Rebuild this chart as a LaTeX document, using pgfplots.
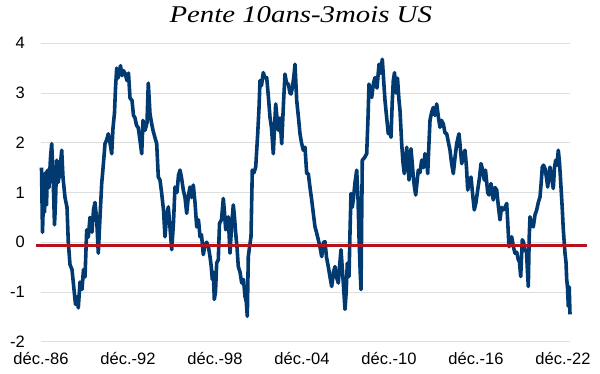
\documentclass[border=0pt]{standalone}
\usepackage{fontspec}
\setmainfont{Liberation Sans}
\newfontfamily\titlefont[FakeStretch=1.2]{Liberation Serif}
\usepackage{pgfplots}
\pgfplotsset{compat=1.18}
\definecolor{navy}{HTML}{003A70}
\definecolor{redl}{HTML}{B5121B}
\begin{document}
\begin{tikzpicture}
\path[use as bounding box] (-41pt,-32.3pt) rectangle (559pt,341.7pt);
\begin{axis}[
  at={(0,0)}, anchor=south west,
  scale only axis, width=529pt, height=298.4pt,
  xmin=41, xmax=570, ymin=-2, ymax=4,
  clip=false,
  axis line style={draw=none},
  major tick length=0pt,
  ytick={-2,-1,0,1,2,3,4},
  xtick={41,128,215,302,389,476,563},
  xticklabels={déc.-86,déc.-92,déc.-98,déc.-04,déc.-10,déc.-16,déc.-22},
  ymajorgrids, grid style={draw=black!13, line width=0.8pt},
  /pgf/number format/assume math mode=true,
  ticklabel style={font=\fontsize{16.5}{19}\selectfont},
  yticklabel style={inner sep=0pt, xshift=-16pt, anchor=east},
  xticklabel style={inner sep=0pt, yshift=-10pt, anchor=north},
  title={Pente 10ans-3mois US},
  title style={font=\titlefont\itshape\fontsize{24}{28}\selectfont, anchor=base, at={(0.491,1)}, yshift=15pt, inner sep=0pt},
]
\addplot[navy, line width=3.6pt, line join=round] coordinates {
(41.5,1.50)(42.5,0.20)(43.5,0.90)(44.5,0.60)(45.5,1.40)(46.5,0.75)(47.5,1.45)(49,1.10)(50.5,1.70)(51.7,1.98)
(53,1.40)(54.5,0.35)(55.5,0.80)(56.7,1.65)(58,1.20)(59.5,1.35)(61.7,1.85)(63,1.30)(65,0.90)(67,0.70)
(68.3,0.00)(70,-0.45)(72,-0.55)(74,-0.95)(75.5,-1.25)(77,-1.10)(78.3,-1.32)(80,-0.80)(82,-0.95)(83.5,-0.55)
(85,-0.70)(86.7,0.25)(88.3,0.10)(90,0.50)(92,0.20)(93.5,0.65)(95,0.80)(96.7,0.45)(98.3,-0.22)(100,0.50)
(101.7,1.18)(103.5,1.60)(105,1.98)(106.5,2.05)(108.3,2.18)(110,2.00)(111.7,1.78)(113,2.30)(114.5,2.60)(115.5,3.10)
(116.7,3.50)(118,3.30)(119.5,3.45)(120.5,3.55)(122,3.35)(123.5,3.45)(125,3.40)(127,3.25)(128.5,3.40)(130,2.90)
(132,2.85)(133.5,2.55)(135,2.50)(136.5,2.35)(138.3,2.30)(140,2.05)(141.7,1.78)(143,2.45)(145,2.25)(147,2.40)
(148.3,3.20)(150,2.58)(151.5,2.40)(153,2.25)(155,2.10)(156.7,1.98)(158.3,1.31)(160,1.25)(161.7,0.98)(163.5,0.65)
(165,0.11)(166.5,0.50)(168.3,0.71)(170,0.30)(171.7,-0.15)(173.5,0.40)(175,1.11)(177,1.00)(178.5,1.35)(180,1.45)
(181.5,1.30)(183.3,1.05)(185,0.90)(186.7,0.58)(188.5,0.95)(190,1.11)(191.5,0.90)(193.3,1.15)(195,0.80)(196.7,0.31)
(198.5,0.45)(200,0.11)(201.5,0.15)(203.3,-0.25)(205,-0.05)(206.7,0.00)(208.5,-0.10)(210,-0.29)(211.3,-0.50)(212.3,-0.75)
(213.3,-0.60)(214.3,-1.15)(215.5,-1.00)(216.7,-0.42)(218.3,-0.35)(219.5,0.38)(221.5,0.45)(223.3,0.88)(224.5,0.60)(225.7,0.25)
(227,0.40)(228.3,0.51)(229,0.20)(230,-0.22)(231.5,0.30)(233.3,0.75)(234.5,0.50)(235.7,0.18)(237,-0.10)(238.3,-0.49)
(240,-0.60)(241.7,-0.82)(243.5,-0.75)(245,-1.09)(246.3,-1.20)(247.3,-1.49)(248.3,-0.29)(249.5,-0.10)(251,0.11)(252.3,1.45)
(254,1.40)(255.7,1.51)(257.7,2.18)(259,2.70)(260,3.25)(261.5,3.15)(263.3,3.41)(265,3.30)(266.7,3.31)(268.5,2.90)
(270,2.51)(271.5,2.30)(273.3,1.78)(274.5,2.30)(275.7,2.78)(277,2.50)(278.3,2.25)(280,2.50)(281.7,1.98)(283.5,2.80)
(285,3.38)(286.5,3.20)(288.3,3.18)(290,3.00)(291,2.98)(292.3,3.10)(293.3,3.25)(294.2,3.40)(295,3.58)(296.7,2.85)
(298.5,2.50)(300,2.18)(301.5,2.00)(303.3,1.85)(305,1.91)(306.7,1.38)(308.3,1.38)(310,1.10)(311.7,0.85)(313.5,0.55)
(315,0.31)(316.5,0.20)(318.3,0.05)(320,-0.10)(321.7,-0.29)(323.5,0.00)(325,0.01)(326.5,-0.30)(328.3,-0.49)(330,-0.70)
(331.7,-0.89)(333.5,-0.60)(335,-0.49)(336.5,-0.70)(338.3,-0.82)(339.5,-0.50)(341,-0.15)(342.2,-0.50)(343.3,-0.82)(345,-1.35)
(346.2,-1.00)(347.3,-0.42)(349,-0.69)(350,0.20)(351,0.98)(352.2,0.70)(353.3,0.85)(355,1.20)(356.7,1.45)(358,0.90)
(359,0.11)(360.2,-0.60)(361,-0.95)(361.7,0.50)(362.3,1.65)(364.5,1.70)(366.7,1.78)(368,2.50)(369,3.18)(370.5,3.00)
(371.7,2.91)(373.5,3.20)(375,3.31)(377,3.10)(379,3.58)(380.5,3.40)(382.3,3.68)(383.5,3.30)(385,2.85)(386.7,2.50)
(388.3,2.18)(390,2.30)(391,2.11)(392.2,2.80)(393.3,3.25)(394.5,3.41)(396,3.00)(397.5,3.30)(399,2.85)(400,2.65)
(401.7,1.98)(403,1.60)(404.3,1.38)(405.5,1.60)(406.7,1.91)(408,1.60)(409,1.25)(410,1.50)(411,1.88)(412.2,1.60)
(413.3,1.31)(414.5,1.10)(415.7,0.95)(417,1.20)(418.3,1.45)(420,1.40)(421.7,1.65)(423.5,1.50)(425,1.78)(426.5,1.70)
(427.7,1.38)(429,2.00)(430,2.45)(431.5,2.60)(433.3,2.71)(435,2.55)(436.7,2.78)(438.5,2.50)(440,2.31)(441.5,2.45)
(443.3,2.38)(445,2.20)(446.7,2.18)(448.5,2.00)(450,1.85)(451.5,1.60)(453.3,1.38)(455,1.70)(456.7,1.98)(458,2.10)
(459,2.18)(460.3,1.90)(461.7,1.58)(463.5,1.75)(465,1.85)(466.5,1.50)(467.7,1.05)(469.5,1.20)(471,1.31)(472.7,0.95)
(474.3,0.65)(476,0.80)(477.7,1.05)(479.5,1.30)(481,1.58)(482.7,1.45)(484.3,1.25)(485.5,1.45)(487.7,1.00)(489,0.95)
(491,1.18)(493.3,0.85)(495,1.10)(496.7,1.05)(498.5,0.70)(500,0.45)(501.5,0.70)(503.3,0.65)(505,0.70)(506.7,0.78)
(508,0.30)(509,-0.09)(510.3,0.00)(511.7,0.11)(513.5,-0.10)(515,-0.22)(516.7,-0.20)(518.3,-0.35)(519.5,-0.40)(520.7,-0.69)
(522.3,0.05)(523.5,0.00)(525,-0.15)(526.5,-0.20)(527.5,-0.60)(528.3,-0.89)(529.2,0.10)(530,0.51)(531.5,0.35)(533.3,0.31)
(535,0.55)(536.7,0.65)(538.3,0.80)(540,0.91)(541.2,1.20)(542.3,1.51)(543.5,1.55)(545,1.48)(546.5,1.30)(547.7,1.11)
(549,1.40)(550,1.51)(551.5,1.30)(553.3,1.08)(554.5,1.50)(555.7,1.65)(557,1.55)(558.3,1.85)(559.5,1.60)(561,1.11)
(562.2,0.70)(563.3,0.25)(564.2,0.00)(565,-0.22)(566,-0.40)(566.7,-0.75)(567.5,-0.90)(568.3,-1.29)(569.2,-0.90)(570,-1.45)
};
\addplot[redl, line width=3.5pt] coordinates {(36,-0.07) (587,-0.07)};
\end{axis}
\end{tikzpicture}
\end{document}
